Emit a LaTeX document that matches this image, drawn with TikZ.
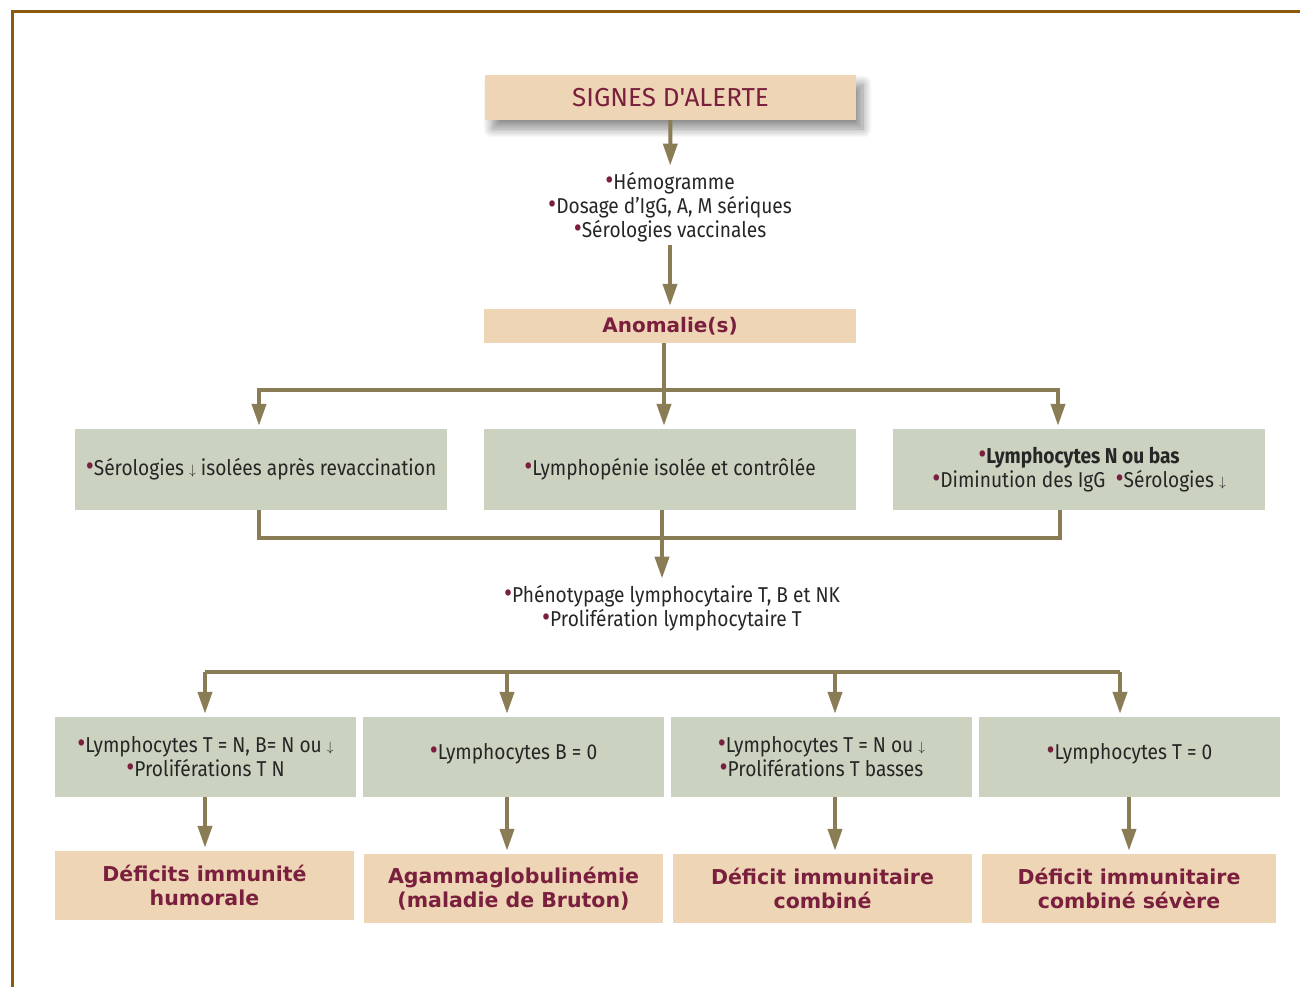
\documentclass[tikz,border=0pt]{standalone}
\usepackage{fontspec}
\setmainfont[FakeStretch=0.89]{Fira Sans}
\newfontfamily\largefont{Fira Sans}
\newfontfamily\grasfont{DejaVu Sans}
\usetikzlibrary{arrows.meta,shadows.blur}

\definecolor{peche}{RGB}{238,213,181}
\definecolor{sauge}{RGB}{203,210,191}
\definecolor{olive}{RGB}{138,125,85}
\definecolor{bordeaux}{RGB}{122,31,61}
\definecolor{brun}{RGB}{139,90,10}

\newcommand{\puce}{{\color{bordeaux}\scalebox{1.3}{\textbullet}}}
\newcommand{\bas}{\raisebox{1pt}{\scalebox{0.65}{$\downarrow$}}}

\begin{document}
\begin{tikzpicture}[x=1pt,y=-1pt,
		every node/.style={align=center, font=\fontsize{21.5}{24}\selectfont, text=black!85},
		titre/.style={fill=peche, text=bordeaux, font=\grasfont\bfseries\fontsize{20.5}{24}\selectfont},
		examen/.style={fill=sauge},
		trait/.style={draw=olive, line width=4pt},
		fleche/.style={trait, -{Triangle[width=14pt,length=22pt]}, shorten >=3pt}]
	\useasboundingbox (0,0) rectangle (1300,987);
	% cadre
	\draw[brun, line width=3pt] (12,987) -- (12,12) -- (1300,12);

	% haut
	\node[titre, minimum width=371pt, minimum height=45pt,
		font=\largefont\fontsize{26}{26}\selectfont,
		blur shadow={shadow xshift=7pt, shadow yshift=-9pt, shadow opacity=45, shadow blur radius=9pt, shadow blur steps=12}]
		(alerte) at (670.5,97.5) {SIGNES D'ALERTE};
	\node (bilan) at (670,207) {\puce H\'emogramme\\ \puce Dosage d'IgG, A, M s\'eriques\\ \puce S\'erologies vaccinales};
	\node[titre, minimum width=372pt, minimum height=34pt, font=\grasfont\bfseries\fontsize{20}{24}\selectfont] (anomalie) at (670,326) {Anomalie(s)};

	% niveau 2
	\node[examen, minimum width=372pt, minimum height=81pt] (sero) at (261,469.5) {\puce S\'erologies \bas{} isol\'ees apr\`es revaccination};
	\node[examen, minimum width=372pt, minimum height=81pt] (lympho) at (670,469.5) {\puce Lymphop\'enie isol\'ee et contr\^ol\'ee};
	\node[examen, minimum width=372pt, minimum height=81pt] (lymphN) at (1079,469.5) {\puce\textbf{Lymphocytes N ou bas}\\ \puce Diminution des IgG\ \ \puce S\'erologies \bas};

	\node (pheno) at (672,608) {\puce Ph\'enotypage lymphocytaire T, B et NK\\ \puce Prolif\'eration lymphocytaire T};

	% niveau 3
	\node[examen, minimum width=301pt, minimum height=80pt] (humA) at (205.5,757) {\puce Lymphocytes T = N, B= N ou \bas\\ \puce Prolif\'erations T N};
	\node[examen, minimum width=301pt, minimum height=80pt] (brutA) at (513.5,757) {\raisebox{12pt}{\puce Lymphocytes B = 0}};
	\node[examen, minimum width=301pt, minimum height=80pt] (combA) at (821.5,757) {\puce Lymphocytes T = N ou \bas\\ \puce Prolif\'erations T basses};
	\node[examen, minimum width=301pt, minimum height=80pt] (sevA) at (1129.5,757) {\raisebox{12pt}{\puce Lymphocytes T = 0}};

	% diagnostics
	\node[titre, minimum width=299pt, minimum height=69pt] (hum) at (204.5,885.5) {D\'eficits immunit\'e\\ humorale};
	\node[titre, minimum width=299pt, minimum height=69pt] (brut) at (513.5,888.5) {Agammaglobulin\'emie\\ (maladie de Bruton)};
	\node[titre, minimum width=299pt, minimum height=69pt] (comb) at (822.5,888.5) {D\'eficit immunitaire\\ combin\'e};
	\node[titre, minimum width=294pt, minimum height=69pt] (sev) at (1129,888.5) {D\'eficit immunitaire\\ combin\'e s\'ev\`ere};

	% liaisons
	\draw[fleche] (alerte) -- (bilan);
	\draw[fleche] (bilan) -- (anomalie);
	\coordinate (h1) at (664,390);
	\draw[trait] (anomalie.south -| h1) -- (h1);
	\draw[fleche] (h1) -| ([xshift=-2pt]sero.north);
	\draw[fleche] (h1) -| ([xshift=-21pt]lymphN.north);
	\draw[fleche] (anomalie.south -| h1) -- (lympho.north -| h1);

	\coordinate (h2) at (662,538);
	\draw[trait] ([xshift=-2pt]sero.south) |- (h2) -| ([xshift=-19pt]lymphN.south);
	\draw[fleche] (lympho.south -| h2) -- (pheno.north -| h2);

	\coordinate (h3g) at (205,672);
	\coordinate (h3d) at (1120,672);
	\draw[trait] (h3g) -- (h3d);
	\draw[fleche] (h3g) -- (humA.north -| h3g);
	\draw[fleche] (h3g -| 507,0) -- (brutA.north -| 507,0);
	\draw[fleche] (h3g -| 835,0) -- (combA.north -| 835,0);
	\draw[fleche] (h3d) -- (sevA.north -| h3d);

	\draw[fleche] (humA.south -| h3g) -- (hum.north -| h3g);
	\draw[fleche] (brutA.south -| 507,0) -- (brut.north -| 507,0);
	\draw[fleche] (combA.south -| 835,0) -- (comb.north -| 835,0);
	\draw[fleche] (sevA.south -| 1129,0) -- (sev.north -| 1129,0);
\end{tikzpicture}
\end{document}
